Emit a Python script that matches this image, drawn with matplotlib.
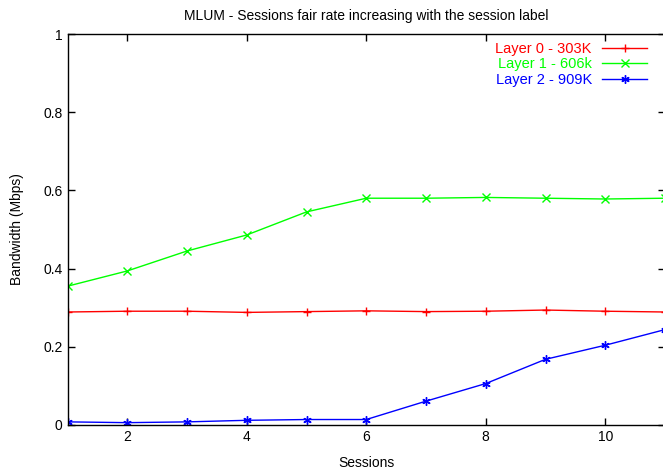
import matplotlib.pyplot as plt

plt.rcParams['font.family'] = ['Liberation Sans', 'DejaVu Sans']

sessions = [1, 2, 3, 4, 5, 6, 7, 8, 9, 10, 11]
layer0 = [0.289, 0.291, 0.291, 0.288, 0.290, 0.292, 0.290, 0.291, 0.294, 0.291, 0.289]
layer1 = [0.355, 0.394, 0.445, 0.486, 0.545, 0.580, 0.580, 0.582, 0.580, 0.578, 0.580]
layer2 = [0.008, 0.006, 0.008, 0.012, 0.014, 0.014, 0.061, 0.106, 0.168, 0.204, 0.244]

labels = ['Layer 0 - 303K', 'Layer 1 - 606k', 'Layer 2 - 909K']
colors = ['#ff0000', '#00ff00', '#0000ff']
markers = ['+', 'x', (6, 2, 0)]

fig = plt.figure(figsize=(6.63, 4.76), dpi=100)
ax = fig.add_axes([67.5 / 663, 51 / 476, 597.5 / 663, 391 / 476])

for ys, lab, c, m in zip([layer0, layer1, layer2], labels, colors, markers):
    ax.plot(sessions, ys, color=c, marker=m, markersize=6, markeredgewidth=1,
            linewidth=1, label=lab)

ax.set_xlim(1, 11)
ax.set_ylim(0, 1)
ax.set_xticks([2, 4, 6, 8, 10])
ax.set_yticks([0, 0.2, 0.4, 0.6, 0.8, 1])
ax.set_yticklabels(['0', '0.2', '0.4', '0.6', '0.8', '1'])
ax.tick_params(direction='in', top=True, right=True, length=5, width=1, labelsize=10)
for s in ax.spines.values():
    s.set_linewidth(1)

ax.set_title('MLUM - Sessions fair rate increasing with the session label', fontsize=10, pad=10)
ax.set_xlabel('Sessions', fontsize=10, labelpad=9)
ax.set_ylabel('Bandwidth (Mbps)', fontsize=10, labelpad=14)

leg = ax.legend(loc='upper right', bbox_to_anchor=(0.98, 0.995), frameon=False, markerfirst=False,
                labelcolor='linecolor', fontsize=10.5, handlelength=3.1,
                handletextpad=0.7, labelspacing=0.1, borderaxespad=0)
for t in leg.get_texts():
    t.set_ha('right')

fig.savefig('out.png', dpi=100)
